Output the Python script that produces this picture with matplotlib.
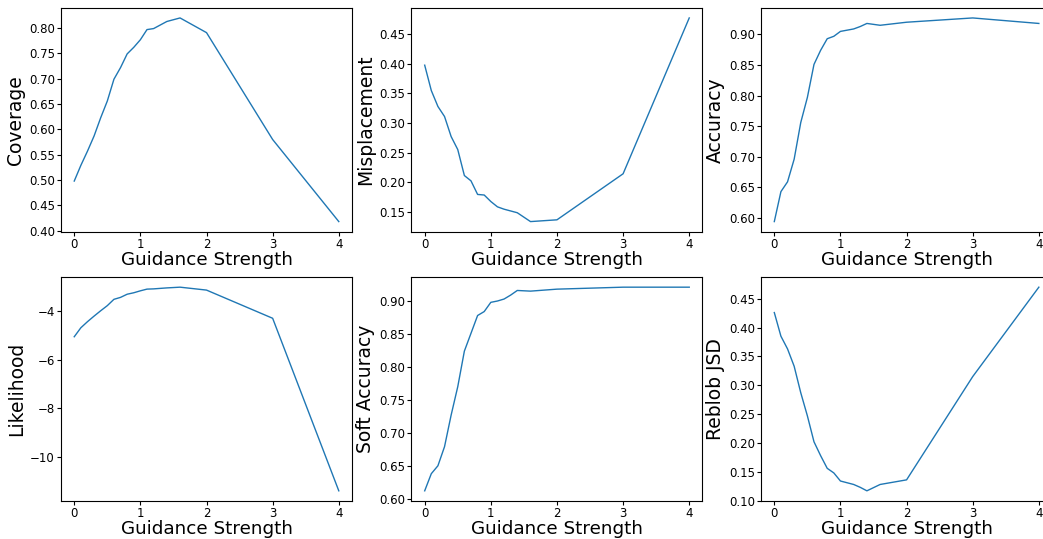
import matplotlib
matplotlib.use("Agg")
import matplotlib.pyplot as plt
from matplotlib.ticker import MultipleLocator

# guidance strengths
guidance = [0, 0.1, 0.2, 0.3, 0.4, 0.5, 0.6, 0.7, 0.8, 0.9, 1.0, 1.1, 1.2, 1.3, 1.4, 1.6, 2, 3, 4]

coverage = [0.498, 0.529, 0.557, 0.587, 0.623, 0.656, 0.699, 0.722, 0.749, 0.762, 0.777,
            0.797, 0.799, 0.806, 0.813, 0.820, 0.791, 0.580, 0.418]
misplacement = [0.398, 0.355, 0.328, 0.311, 0.277, 0.255, 0.211, 0.202, 0.179, 0.178, 0.167,
                0.158, 0.154, 0.151, 0.148, 0.133, 0.136, 0.214, 0.478]
accuracy = [0.594, 0.643, 0.659, 0.696, 0.756, 0.797, 0.851, 0.874, 0.893, 0.897, 0.905,
            0.907, 0.909, 0.913, 0.918, 0.915, 0.920, 0.927, 0.918]
likelihood = [-5.06, -4.69, -4.44, -4.21, -3.99, -3.78, -3.52, -3.44, -3.31, -3.25, -3.17,
              -3.10, -3.09, -3.07, -3.05, -3.02, -3.14, -4.30, -11.4]
soft_accuracy = [0.612, 0.638, 0.650, 0.679, 0.727, 0.770, 0.824, 0.851, 0.878, 0.884, 0.898,
                 0.900, 0.903, 0.909, 0.916, 0.915, 0.918, 0.921, 0.921]
reblob_jsd = [0.426, 0.385, 0.363, 0.333, 0.287, 0.247, 0.202, 0.178, 0.156, 0.148, 0.134,
              0.131, 0.128, 0.123, 0.117, 0.128, 0.136, 0.315, 0.470]

metrics = [
    ("Coverage", coverage, 0.05),
    ("Misplacement", misplacement, 0.05),
    ("Accuracy", accuracy, 0.05),
    ("Likelihood", likelihood, 2),
    ("Soft Accuracy", soft_accuracy, 0.05),
    ("Reblob JSD", reblob_jsd, 0.05),
]

fig = plt.figure(figsize=(10.43, 5.39), dpi=100)

lefts = [0.0585, 0.3945, 0.7297]
bottoms = [0.570, 0.0705]
w, h = 0.279, 0.4156

for i, (name, vals, step) in enumerate(metrics):
    ax = fig.add_axes([lefts[i % 3], bottoms[i // 3], w, h])
    ax.plot(guidance, vals, color="tab:blue", lw=1)
    ax.yaxis.set_major_locator(MultipleLocator(step))
    ax.set_xlabel("Guidance Strength", fontsize=13.2, labelpad=0)
    ax.set_ylabel(name, fontsize=13.5, labelpad=3)
    ax.tick_params(labelsize=8.5, length=3, pad=1.5)

fig.savefig("out.png", dpi=100)
